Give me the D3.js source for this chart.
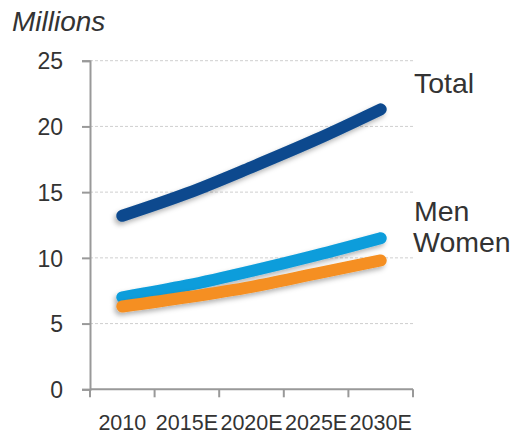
<!DOCTYPE html>
<html>
<head>
<meta charset="utf-8">
<script src="https://cdn.jsdelivr.net/npm/d3@7"></script>
<style>
  body { margin: 0; background: #fff; }
  svg text { font-family: "Liberation Sans", Arial, sans-serif; fill: #333; }
</style>
</head>
<body>
<svg id="chart_svg"></svg>
<script>
// Chart data
const years = ["2010", "2015E", "2020E", "2025E", "2030E"];
const totalValues = [13.2, 14.9, 16.9, 19.0, 21.3];
const menValues = [7.0, 7.9, 9.0, 10.2, 11.5];
const womenValues = [6.3, 7.0, 7.8, 8.8, 9.8];
const yTicks = [0, 5, 10, 15, 20, 25];
const seriesNames = ["Total", "Men", "Women"];

const series = [
  { name: seriesNames[0], values: totalValues, color: "#0b4a8e" },
  { name: seriesNames[1], values: menValues, color: "#0a9ddb" },
  { name: seriesNames[2], values: womenValues, color: "#f58f20" }
];

const width = 515, height = 437;
const svg = d3.select("#chart_svg").attr("width", width).attr("height", height);

const x = d3.scaleBand().domain(years).range([90, 413]).padding(0);
const y = d3.scaleLinear().domain([0, 25]).range([389.3, 60.7]);

// drop shadow for lines
const defs = svg.append("defs");
defs.append("filter")
  .attr("id", "shadow")
  .attr("x", "-20%").attr("y", "-50%").attr("width", "140%").attr("height", "200%")
  .append("feDropShadow")
  .attr("dx", -2).attr("dy", 3)
  .attr("stdDeviation", 2.5)
  .attr("flood-color", "#000")
  .attr("flood-opacity", 0.3);

// gridlines
svg.append("g")
  .selectAll("line")
  .data(yTicks.filter(d => d > 0))
  .enter().append("line")
  .attr("x1", 90).attr("x2", 413)
  .attr("y1", d => y(d)).attr("y2", d => y(d))
  .attr("stroke", "#cfcfcf")
  .attr("stroke-width", 1)
  .attr("stroke-dasharray", "3,2");

// y axis
const yAxis = svg.append("g")
  .attr("transform", "translate(90,0)")
  .call(d3.axisLeft(y).tickValues(yTicks).tickSize(8).tickPadding(19));
yAxis.select(".domain").attr("stroke", "#999").attr("stroke-width", 2);
yAxis.selectAll(".tick line").attr("stroke", "#999").attr("stroke-width", 2);
yAxis.selectAll(".tick text")
  .style("font-size", "23px")
  .attr("fill", "#333")
  .attr("dy", "0.36em");

// x axis: labels centered in bands, ticks at band boundaries
const xAxis = svg.append("g")
  .attr("transform", `translate(0,${y(0)})`)
  .call(d3.axisBottom(x).tickSize(0).tickPadding(25));
xAxis.select(".domain").remove();
xAxis.selectAll(".tick text")
  .style("font-size", "21.5px")
  .attr("fill", "#333");

const bounds = years.map(d => x(d)).concat([x.range()[1]]);
svg.append("line")
  .attr("x1", 90).attr("x2", 413)
  .attr("y1", y(0)).attr("y2", y(0))
  .attr("stroke", "#999").attr("stroke-width", 2);
svg.append("g")
  .selectAll("line")
  .data(bounds)
  .enter().append("line")
  .attr("x1", d => d).attr("x2", d => d)
  .attr("y1", y(0)).attr("y2", y(0) + 8)
  .attr("stroke", "#999").attr("stroke-width", 2);

// lines
const line = d3.line()
  .x((d, i) => x(years[i]) + x.bandwidth() / 2)
  .y(d => y(d))
  .curve(d3.curveMonotoneX);

svg.append("g")
  .selectAll("path")
  .data(series)
  .enter().append("path")
  .attr("d", d => line(d.values))
  .attr("fill", "none")
  .attr("stroke", d => d.color)
  .attr("stroke-width", 12)
  .attr("stroke-linecap", "round")
  .attr("stroke-linejoin", "round")
  .attr("filter", "url(#shadow)");

// series labels
const labelPos = [
  { x: 414, y: 92.7 },
  { x: 414, y: 220.7 },
  { x: 413, y: 252.3 }
];
svg.append("g")
  .selectAll("text")
  .data(series)
  .enter().append("text")
  .attr("x", (d, i) => labelPos[i].x)
  .attr("y", (d, i) => labelPos[i].y)
  .style("font-size", "28.5px")
  .text(d => d.name);

// unit label
svg.append("text")
  .attr("x", 12)
  .attr("y", 30.5)
  .style("font-size", "28px")
  .style("font-style", "italic")
  .text("Millions");
</script>
</body>
</html>
